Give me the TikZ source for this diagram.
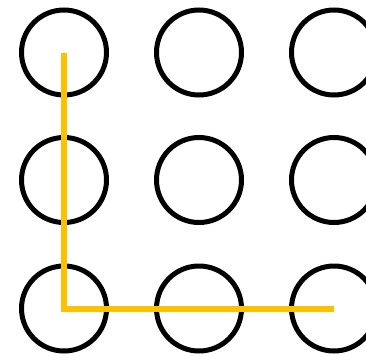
\documentclass[tikz,border=0pt]{standalone}
\usepackage{xcolor}
\definecolor{dotyellow}{HTML}{FFC000}
\begin{document}
\begin{tikzpicture}[x=1pt,y=-1pt,
  dot/.style={circle,draw=black,line width=5pt,minimum size=85pt,inner sep=0pt},
  pattern/.style={draw=dotyellow,line width=6pt,line join=miter}]
\useasboundingbox (0,0) rectangle (366,353);
\foreach \r/\yy in {1/52.5,2/180,3/308.5}{
  \foreach \c/\xx in {1/64,2/199,3/334}{
    \node[dot] (c\r\c) at (\xx,\yy) {};
  }
}
\draw[pattern] (c11.center) -- (c31.center) -- (c33.center);
\end{tikzpicture}
\end{document}
